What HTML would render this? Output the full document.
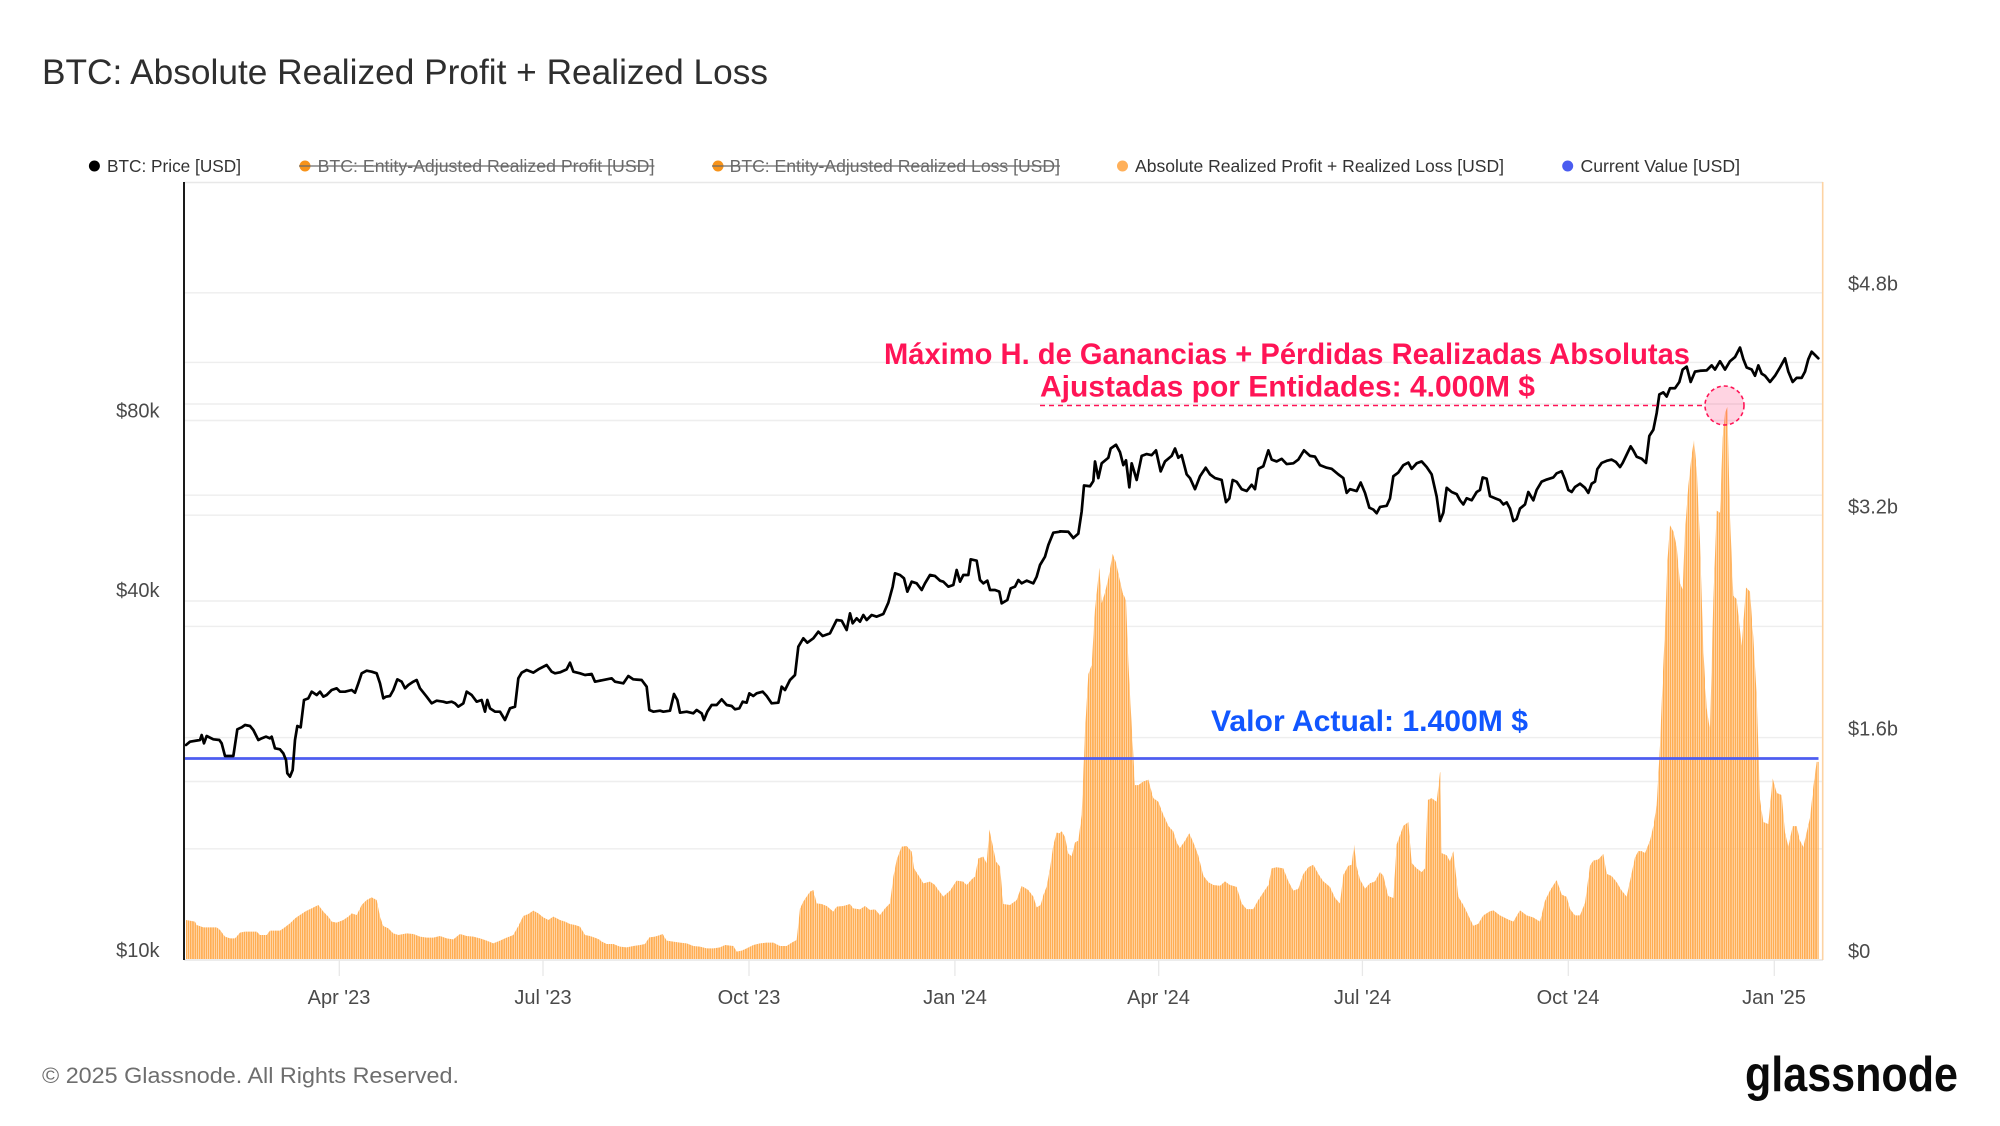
<!DOCTYPE html>
<html>
<head>
<meta charset="utf-8">
<style>
html,body{margin:0;padding:0;background:#fff;}
svg{display:block;}
</style>
</head>
<body>
<svg width="2000" height="1126" viewBox="0 0 2000 1126" xmlns="http://www.w3.org/2000/svg" font-family="'Liberation Sans', Arial, sans-serif">
<defs>
  <pattern id="barpat" patternUnits="userSpaceOnUse" x="185.4" y="0" width="2.2387" height="1126">
    <rect x="0" y="0" width="1.75" height="1126" fill="#ffad52"/>
  </pattern>
  <clipPath id="barclip">
    <polygon transform="translate(180,640) scale(0.333333)" points="18,957 18,840 45,845 50,855 70,862 110,862 120,870 135,890 150,895 165,895 180,878 195,875 230,875 240,885 260,885 270,872 300,872 310,865 330,850 345,835 360,825 375,815 395,805 415,795 430,815 445,830 455,845 470,848 490,840 505,830 515,820 530,825 545,795 560,780 575,772 590,780 600,830 610,858 625,865 640,880 655,885 680,880 700,882 720,890 740,893 760,893 780,888 800,895 820,898 840,882 860,888 880,890 900,895 920,902 940,910 960,902 980,893 1000,885 1015,858 1030,828 1045,822 1060,812 1075,820 1090,832 1105,840 1120,830 1140,840 1155,845 1170,852 1185,855 1200,860 1215,885 1230,888 1250,895 1261,900 1261,957"/>
    <polygon transform="translate(600,520) scale(0.333333)" points="0,1317 0,1262 20,1272 40,1272 60,1280 80,1282 100,1278 120,1275 135,1272 148,1252 165,1250 180,1245 188,1242 200,1262 220,1265 240,1268 260,1270 280,1278 300,1280 320,1285 340,1285 360,1282 375,1275 400,1278 410,1295 425,1292 440,1285 460,1275 480,1270 500,1268 520,1268 540,1278 560,1278 575,1268 590,1260 600,1165 610,1145 620,1130 630,1115 640,1110 650,1150 665,1152 680,1158 700,1175 710,1160 730,1158 750,1152 760,1165 780,1168 795,1158 810,1170 825,1168 840,1185 855,1165 870,1150 880,1070 890,1020 905,980 920,978 935,995 942,1045 955,1065 970,1090 990,1085 1005,1095 1015,1110 1030,1130 1050,1112 1070,1082 1090,1085 1100,1095 1115,1078 1125,1070 1135,1015 1150,1010 1160,1030 1168,928 1178,975 1188,1025 1200,1040 1210,1152 1230,1155 1250,1140 1265,1098 1285,1110 1300,1130 1310,1162 1322,1155 1330,1125 1340,1100 1350,1045 1360,975 1370,938 1381,940 1381,1317"/>
    <polygon transform="translate(1040,400.4) scale(0.333333,0.36996)" points="60,1510 60,1168 65,1165 75,1180 85,1225 95,1232 105,1195 115,1190 125,1120 135,895 145,740 155,715 165,565 178,452 185,548 195,520 205,480 218,415 228,438 238,480 248,520 258,540 265,705 270,795 278,925 285,1040 295,1040 310,1030 325,1025 340,1075 355,1085 370,1120 385,1150 400,1165 410,1195 420,1210 435,1190 448,1170 460,1195 475,1230 490,1285 505,1302 520,1310 540,1312 555,1300 570,1310 590,1315 605,1360 620,1375 640,1375 655,1350 670,1330 685,1310 695,1265 710,1262 730,1265 745,1300 760,1325 775,1320 790,1280 805,1262 820,1255 835,1280 850,1300 870,1315 885,1345 900,1360 910,1282 925,1258 935,1255 942,1200 950,1260 960,1295 975,1320 990,1305 1005,1300 1020,1275 1030,1285 1045,1340 1060,1345 1070,1200 1080,1175 1090,1150 1105,1140 1115,1250 1130,1265 1145,1275 1155,1265 1163,1080 1175,1075 1190,1085 1200,1005 1201,1005 1201,1510"/>
    <polygon transform="translate(1440,330.1) scale(0.333333,0.41511)" points="0,1515 0,1065 5,1260 20,1265 30,1280 40,1255 55,1365 70,1385 85,1410 100,1435 115,1430 130,1410 150,1400 160,1398 180,1410 200,1418 220,1425 240,1398 260,1410 280,1415 300,1425 315,1375 330,1350 350,1325 365,1360 380,1365 390,1395 405,1410 420,1410 435,1380 450,1290 460,1278 475,1275 490,1262 500,1310 515,1315 530,1330 545,1350 560,1365 572,1320 585,1270 595,1255 605,1255 615,1260 630,1230 640,1195 650,1145 660,1000 668,840 675,720 682,560 690,470 700,485 710,520 720,610 728,625 735,485 745,375 755,300 762,265 770,330 780,510 790,770 800,910 810,965 820,650 830,435 840,440 848,260 855,200 862,185 870,450 880,640 890,648 905,760 918,620 930,630 940,740 950,880 960,1130 970,1185 985,1190 998,1080 1010,1115 1025,1120 1035,1210 1045,1245 1058,1195 1070,1195 1080,1230 1090,1245 1100,1210 1110,1175 1120,1100 1130,1040 1136,1040 1136,1515"/>
  </clipPath>
</defs>

<rect x="0" y="0" width="2000" height="1126" fill="#ffffff"/>

<!-- Title -->
<text x="42" y="84" font-size="35" fill="#2e2e2e" textLength="726" lengthAdjust="spacingAndGlyphs">BTC: Absolute Realized Profit + Realized Loss</text>

<!-- Legend -->
<g font-size="17.5">
  <circle cx="94.4" cy="166" r="5.5" fill="#000"/>
  <text x="107" y="172" fill="#333" textLength="134" lengthAdjust="spacingAndGlyphs">BTC: Price [USD]</text>

  <circle cx="305" cy="166" r="5.5" fill="#f7931a"/>
  <text x="317.6" y="172" fill="#6a6a6a" textLength="336.8" lengthAdjust="spacingAndGlyphs">BTC: Entity-Adjusted Realized Profit [USD]</text>
  <line x1="299" y1="166" x2="654.4" y2="166" stroke="#6a6a6a" stroke-width="1.3"/>

  <circle cx="718" cy="166" r="5.5" fill="#f7931a"/>
  <text x="729.6" y="172" fill="#6a6a6a" textLength="330.4" lengthAdjust="spacingAndGlyphs">BTC: Entity-Adjusted Realized Loss [USD]</text>
  <line x1="712" y1="166" x2="1060" y2="166" stroke="#6a6a6a" stroke-width="1.3"/>

  <circle cx="1122.5" cy="166" r="5.5" fill="#ffb05a"/>
  <text x="1135" y="172" fill="#333" textLength="369" lengthAdjust="spacingAndGlyphs">Absolute Realized Profit + Realized Loss [USD]</text>

  <circle cx="1567.7" cy="166" r="5.5" fill="#4a5cf0"/>
  <text x="1580.5" y="172" fill="#333" textLength="159.5" lengthAdjust="spacingAndGlyphs">Current Value [USD]</text>
</g>

<!-- Plot frame & grid -->
<line x1="184" y1="182.5" x2="1823" y2="182.5" stroke="#e8e8e8" stroke-width="1.5"/>
<g stroke="#eeeeee" stroke-width="1.4">
  <line x1="185" y1="292.8" x2="1822" y2="292.8"/>
  <line x1="185" y1="362.4" x2="1822" y2="362.4"/>
  <line x1="185" y1="404" x2="1822" y2="404"/>
  <line x1="185" y1="420.5" x2="1822" y2="420.5"/>
  <line x1="185" y1="495.2" x2="1822" y2="495.2"/>
  <line x1="185" y1="515.2" x2="1822" y2="515.2"/>
  <line x1="185" y1="601" x2="1822" y2="601"/>
  <line x1="185" y1="626.4" x2="1822" y2="626.4"/>
  <line x1="185" y1="737.6" x2="1822" y2="737.6"/>
  <line x1="185" y1="781.5" x2="1822" y2="781.5"/>
  <line x1="185" y1="848.8" x2="1822" y2="848.8"/>
</g>
<line x1="184" y1="960" x2="1823" y2="960" stroke="#e6e6e6" stroke-width="1.5"/>
<g stroke="#e8e8e8" stroke-width="1.3">
  <line x1="339.3" y1="960" x2="339.3" y2="976"/>
  <line x1="543" y1="960" x2="543" y2="976"/>
  <line x1="749" y1="960" x2="749" y2="976"/>
  <line x1="954.9" y1="960" x2="954.9" y2="976"/>
  <line x1="1158.7" y1="960" x2="1158.7" y2="976"/>
  <line x1="1362.4" y1="960" x2="1362.4" y2="976"/>
  <line x1="1568.3" y1="960" x2="1568.3" y2="976"/>
  <line x1="1774.3" y1="960" x2="1774.3" y2="976"/>
</g>
<line x1="1822.7" y1="182" x2="1822.7" y2="960" stroke="#fdd3a3" stroke-width="1.6"/>

<!-- Bars -->
<rect x="184" y="182" width="1640" height="778" fill="url(#barpat)" clip-path="url(#barclip)"/>

<!-- Current value line -->
<line x1="185" y1="758.5" x2="1818.5" y2="758.5" stroke="#4d5df0" stroke-width="2.8"/>

<!-- Price line -->
<g fill="none" stroke="#000" stroke-width="2.7" stroke-linejoin="round" stroke-linecap="round">
  <polyline vector-effect="non-scaling-stroke" transform="translate(180,640) scale(0.333333)" points="18,315 30,305 60,300 65,285 72,310 80,288 100,298 118,300 125,310 135,348 160,348 172,268 185,262 195,255 210,258 220,270 235,300 245,295 258,290 270,295 275,290 285,325 300,328 310,340 318,360 322,400 330,410 338,390 345,300 352,258 362,262 372,180 385,175 395,155 410,165 420,155 430,170 440,165 455,150 470,145 480,155 495,155 515,150 525,158 535,130 545,100 560,92 575,95 590,100 600,130 610,175 618,170 630,168 640,150 652,118 665,125 675,145 685,135 700,125 710,120 720,145 740,170 755,190 770,182 790,185 800,188 815,185 825,190 835,200 850,190 860,155 875,165 890,185 905,180 915,215 922,180 930,205 945,215 960,215 975,240 990,205 1005,200 1015,115 1025,98 1040,90 1060,98 1075,88 1100,75 1115,95 1125,100 1140,97 1160,88 1170,68 1180,95 1200,100 1215,105 1235,102 1245,125 1260,122"/>
  <polyline vector-effect="non-scaling-stroke" transform="translate(600,520) scale(0.333333)" points="0,482 35,475 45,485 70,490 85,468 100,478 125,480 140,500 148,570 160,575 180,572 190,575 210,572 222,522 232,540 240,578 260,575 280,580 290,570 305,580 312,600 322,575 335,555 350,555 365,538 380,555 395,558 405,568 418,565 428,545 440,548 448,520 460,528 470,520 488,515 500,528 515,550 535,548 545,500 555,510 570,480 585,465 595,380 610,355 622,368 640,355 655,335 668,348 690,340 710,300 725,302 740,330 750,280 758,310 770,295 780,305 790,285 800,300 815,285 830,290 850,282 865,248 878,200 885,160 900,165 912,175 922,215 935,185 950,190 965,210 975,190 990,165 1005,168 1020,182 1030,185 1045,200 1060,195 1070,150 1080,185 1090,165 1105,165 1112,118 1130,122 1140,180 1150,190 1162,182 1170,210 1185,210 1198,215 1205,250 1222,240 1232,205 1245,200 1255,180 1265,190 1280,182 1300,190 1310,170 1320,135 1335,110 1345,75 1360,38 1380,35"/>
  <polyline vector-effect="non-scaling-stroke" transform="translate(1040,400.4) scale(0.333333,0.36996)" points="60,354 85,355 100,372 115,360 125,300 132,230 150,232 160,218 165,165 175,210 185,170 205,155 212,130 228,120 240,140 250,175 258,162 268,235 275,170 290,215 305,150 320,145 335,148 348,135 362,192 375,165 395,150 405,130 415,155 425,148 440,200 450,210 465,240 480,205 497,182 510,200 525,210 545,215 558,275 568,265 578,215 590,220 605,240 620,245 635,228 645,240 655,185 670,178 685,135 695,160 710,165 725,158 740,172 760,170 775,160 792,135 810,150 825,152 840,175 860,182 875,185 895,200 910,210 920,250 930,240 950,245 962,222 975,250 988,290 1000,295 1010,305 1020,288 1040,285 1050,265 1060,205 1075,195 1090,175 1105,168 1115,185 1130,170 1145,165 1160,180 1175,200 1190,260 1200,325"/>
  <polyline vector-effect="non-scaling-stroke" transform="translate(1440,330.1) scale(0.333333,0.41511)" points="0,460 10,440 20,380 35,390 50,395 60,410 70,420 80,405 95,410 110,390 120,385 128,355 140,358 150,400 165,405 180,410 190,420 200,415 210,430 220,460 230,455 240,430 255,420 265,390 280,410 290,385 305,365 320,360 340,355 350,345 365,340 375,360 385,385 395,390 405,378 420,370 435,380 445,392 455,370 465,365 472,335 485,320 500,315 515,312 528,318 540,330 548,320 560,300 572,280 580,290 590,305 605,310 618,320 628,255 640,240 650,200 658,155 670,150 680,160 690,140 705,140 718,125 728,95 740,88 752,125 765,100 780,98 800,97 815,85 825,95 840,75 855,95 870,75 885,65 900,42 910,70 920,90 935,95 945,110 955,85 965,105 975,110 990,125 1005,110 1020,90 1035,68 1045,100 1058,125 1070,115 1085,115 1095,100 1105,70 1115,52 1125,60 1135,68"/>
</g>

<!-- Left axis line -->
<line x1="184" y1="182" x2="184" y2="960" stroke="#1a1a1a" stroke-width="2"/>

<!-- Axis labels -->
<g font-size="20" fill="#4a4a4a">
  <text x="159.5" y="417.5" text-anchor="end">$80k</text>
  <text x="159.5" y="597" text-anchor="end">$40k</text>
  <text x="159.5" y="957" text-anchor="end">$10k</text>

  <text x="1848" y="290.5">$4.8b</text>
  <text x="1848" y="513.5">$3.2b</text>
  <text x="1848" y="735.5">$1.6b</text>
  <text x="1848" y="958">$0</text>

  <text x="339" y="1004" text-anchor="middle">Apr '23</text>
  <text x="543" y="1004" text-anchor="middle">Jul '23</text>
  <text x="749" y="1004" text-anchor="middle">Oct '23</text>
  <text x="955" y="1004" text-anchor="middle">Jan '24</text>
  <text x="1158.5" y="1004" text-anchor="middle">Apr '24</text>
  <text x="1362.5" y="1004" text-anchor="middle">Jul '24</text>
  <text x="1568" y="1004" text-anchor="middle">Oct '24</text>
  <text x="1774" y="1004" text-anchor="middle">Jan '25</text>
</g>

<!-- Annotations -->
<line x1="1040" y1="405.5" x2="1705" y2="405.5" stroke="#ff1456" stroke-width="1.6" stroke-dasharray="5 4"/>
<circle cx="1724.5" cy="405.5" r="19.5" fill="rgba(255,40,110,0.2)" stroke="#ff1456" stroke-width="1.6" stroke-dasharray="4 3"/>
<g font-weight="bold" font-size="29.5" fill="#ff1456">
  <text x="884" y="364" textLength="806" lengthAdjust="spacingAndGlyphs">Máximo H. de Ganancias + Pérdidas Realizadas Absolutas</text>
  <text x="1040" y="396.5" textLength="495" lengthAdjust="spacingAndGlyphs">Ajustadas por Entidades: 4.000M $</text>
</g>
<text x="1211" y="731" font-weight="bold" font-size="29.5" fill="#1156ff" textLength="317" lengthAdjust="spacingAndGlyphs">Valor Actual: 1.400M $</text>

<!-- Footer -->
<text x="42" y="1083" font-size="22" fill="#6e6e6e" textLength="417" lengthAdjust="spacingAndGlyphs">© 2025 Glassnode. All Rights Reserved.</text>
<text x="1745" y="1091" font-size="49" font-weight="bold" fill="#0a0a0a" textLength="213" lengthAdjust="spacingAndGlyphs">glassnode</text>
</svg>
</body>
</html>
